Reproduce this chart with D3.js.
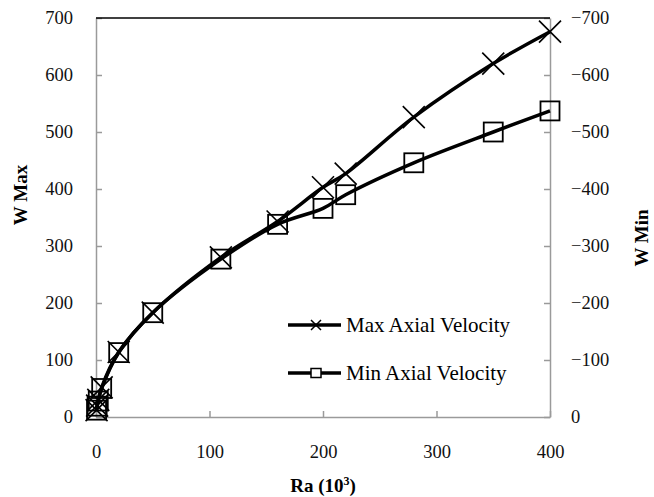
<!DOCTYPE html>
<html>
<head>
<meta charset="utf-8">
<script src="https://cdn.jsdelivr.net/npm/d3@7"></script>
<style>
  body { margin: 0; background: #fff; }
</style>
</head>
<body>
<div id="chart"></div>
<script>
// Ra (10^3) values and the two velocity series
const raValues = [0.5, 1, 2, 5, 20, 50, 110, 160, 200, 220, 280, 350, 400];
const wMaxValues = [12, 20, 30, 52, 114, 183, 280, 343, 403, 427, 526, 620, 676];
const wMinValues = [-12, -19, -28, -50, -113, -183, -277, -338, -366, -390, -446, -500, -537];

const xTicks = [0, 100, 200, 300, 400];
const leftTicks = [0, 100, 200, 300, 400, 500, 600, 700];
const rightTicks = [0, -100, -200, -300, -400, -500, -600, -700];

const serif = "'Liberation Serif'";
const W = 654, H = 497;
const margin = { top: 18, right: 104, bottom: 80, left: 96 };
const width = W - margin.left - margin.right;
const height = H - margin.top - margin.bottom;

const svg = d3.select("#chart").append("svg")
  .attr("width", W)
  .attr("height", H);

const g = svg.append("g")
  .attr("transform", `translate(${margin.left},${margin.top})`);

const x = d3.scaleLinear().domain([0, 400]).range([0, width]);
const yLeft = d3.scaleLinear().domain([0, 700]).range([height, 0]);
const yRight = d3.scaleLinear().domain([0, -700]).range([height, 0]);

const axisColor = "#9a9a9a";

// axes (ticks pointing inward)
const xAxis = g.append("g")
  .attr("transform", `translate(0,${height})`)
  .call(d3.axisBottom(x).tickValues(xTicks).tickSizeInner(-6).tickSizeOuter(0).tickPadding(28));

const leftAxis = g.append("g")
  .call(d3.axisLeft(yLeft).tickValues(leftTicks).tickSizeInner(-6).tickSizeOuter(0).tickPadding(23));

const rightAxis = g.append("g")
  .attr("transform", `translate(${width},0)`)
  .call(d3.axisRight(yRight).tickValues(rightTicks).tickSizeInner(-6).tickSizeOuter(0).tickPadding(21));

[xAxis, leftAxis, rightAxis].forEach(a => {
  a.selectAll(".domain").attr("stroke", axisColor).attr("stroke-width", 1.5);
  a.selectAll(".tick line").attr("stroke", axisColor).attr("stroke-width", 1.5);
  a.selectAll(".tick text")
    .style("font-family", serif)
    .style("font-size", "18.5px")
    .attr("fill", "#111");
});

// top border line
g.append("line")
  .attr("x1", 0).attr("x2", width)
  .attr("y1", 0).attr("y2", 0)
  .attr("stroke", "#000").attr("stroke-width", 1.5);

// lines
const lineMax = d3.line()
  .x((d, i) => x(raValues[i]))
  .y(d => yLeft(d))
  .curve(d3.curveCatmullRom.alpha(0.5));

const lineMin = d3.line()
  .x((d, i) => x(raValues[i]))
  .y(d => yRight(d))
  .curve(d3.curveCatmullRom.alpha(0.5));

g.append("path").datum(wMaxValues)
  .attr("d", lineMax).attr("fill", "none")
  .attr("stroke", "#000").attr("stroke-width", 3.5);

g.append("path").datum(wMinValues)
  .attr("d", lineMin).attr("fill", "none")
  .attr("stroke", "#000").attr("stroke-width", 3.5);

// markers
const xs = 11, sq = 9.5;
g.selectAll(".mx").data(wMaxValues).enter().append("path")
  .attr("class", "mx")
  .attr("transform", (d, i) => `translate(${x(raValues[i])},${yLeft(d)})`)
  .attr("d", `M${-xs},${-xs}L${xs},${xs}M${-xs},${xs}L${xs},${-xs}`)
  .attr("stroke", "#000").attr("stroke-width", 1.6).attr("fill", "none");

g.selectAll(".mn").data(wMinValues).enter().append("rect")
  .attr("class", "mn")
  .attr("x", (d, i) => x(raValues[i]) - sq)
  .attr("y", d => yRight(d) - sq)
  .attr("width", sq * 2).attr("height", sq * 2)
  .attr("fill", "none").attr("stroke", "#000").attr("stroke-width", 1.8);

// legend
const legend = svg.append("g");
const legendItems = [
  { name: "Max Axial Velocity", y: 325, marker: "x" },
  { name: "Min Axial Velocity", y: 373, marker: "sq" }
];
legendItems.forEach(item => {
  legend.append("line")
    .attr("x1", 288).attr("x2", 341)
    .attr("y1", item.y).attr("y2", item.y)
    .attr("stroke", "#000").attr("stroke-width", 3.5);
  if (item.marker === "x") {
    legend.append("path")
      .attr("transform", `translate(316,${item.y})`)
      .attr("d", "M-5,-5L5,5M-5,5L5,-5")
      .attr("stroke", "#000").attr("stroke-width", 1.5);
  } else {
    legend.append("rect")
      .attr("x", 311).attr("y", item.y - 4.5)
      .attr("width", 10).attr("height", 9)
      .attr("fill", "#fff").attr("stroke", "#000").attr("stroke-width", 1.5);
  }
  legend.append("text")
    .attr("x", 346).attr("y", item.y)
    .attr("dy", "0.35em")
    .style("font-family", serif)
    .style("font-size", "21px")
    .text(item.name);
});

// axis titles
svg.append("text")
  .attr("transform", "translate(27,195) rotate(-90)")
  .attr("text-anchor", "middle")
  .style("font-family", serif)
  .style("font-size", "19px").style("font-weight", "bold")
  .text("W Max");

svg.append("text")
  .attr("transform", "translate(648,238) rotate(-90)")
  .attr("text-anchor", "middle")
  .style("font-family", serif)
  .style("font-size", "19px").style("font-weight", "bold")
  .text("W Min");

const xt = svg.append("text")
  .attr("x", 323).attr("y", 492)
  .attr("text-anchor", "middle")
  .style("font-family", serif)
  .style("font-size", "19px").style("font-weight", "bold");
xt.append("tspan").text("Ra (10");
xt.append("tspan").attr("dy", -7).style("font-size", "12px").text("3");
xt.append("tspan").attr("dy", 7).text(")");
</script>
</body>
</html>
